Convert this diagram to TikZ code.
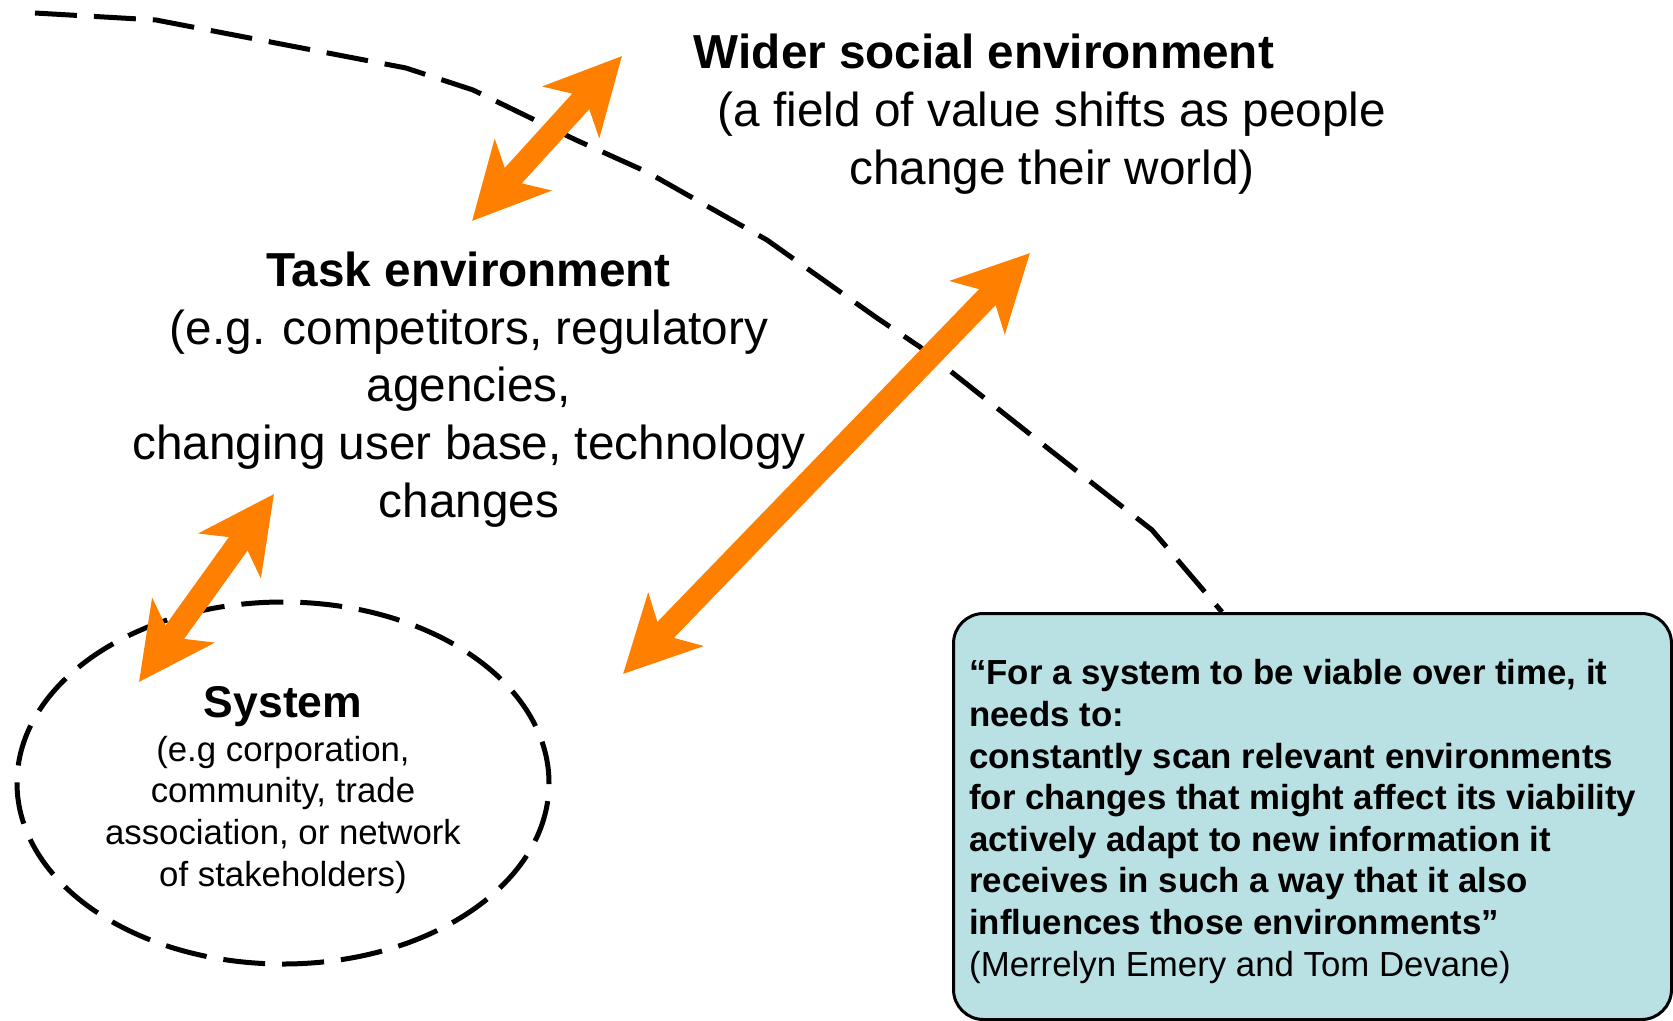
\documentclass[tikz,border=0pt]{standalone}
\usepackage{fontspec}
\setmainfont{Liberation Sans}
\usetikzlibrary{arrows.meta,shapes.geometric}
\definecolor{arroworange}{RGB}{255,128,0}
\definecolor{quotefill}{RGB}{185,224,227}
\begin{document}
\begin{tikzpicture}[x=1pt,y=-1pt,
  envline/.style={line width=5pt, dash pattern=on 42pt off 17pt},
  twoway/.style={line width=23pt, draw=arroworange, fill=arroworange,
    {Stealth[length=75pt,width=75pt,inset=20pt]}-{Stealth[length=75pt,width=75pt,inset=20pt]}},
  bigtitle/.style={font=\fontsize{47.7}{57.6}\selectfont\bfseries, anchor=base, inner sep=0pt},
  bigtext/.style={font=\fontsize{47.7}{57.6}\selectfont, align=center, anchor=base, inner sep=0pt},
  systitlestyle/.style={font=\fontsize{44.5}{53}\selectfont\bfseries, anchor=base, inner sep=0pt},
  smalltext/.style={font=\fontsize{34.8}{41.6}\selectfont, align=center, anchor=base, inner sep=0pt},
  quotestyle/.style={font=\fontsize{34.8}{41.6}\selectfont\bfseries, align=left, anchor=base west, inner sep=0pt},
  quotebox/.style={draw=black, line width=3pt, fill=quotefill, rounded corners=30pt,
    minimum width=718pt, minimum height=406pt, inner sep=0pt, anchor=north west},
  sysellipse/.style={draw=black, envline, ellipse, minimum width=532pt, minimum height=362pt, inner sep=0pt}
]
\useasboundingbox (0,0) rectangle (1673,1020);

% quote box
\node[quotebox] (quote) at (952,612) {};
\node[quotestyle] (quotetext) at (969,976) {“For a system to be viable over time, it\\needs to:\\constantly scan relevant environments\\for changes that might affect its viability\\actively adapt to new information it\\receives in such a way that it also\\influences those environments”\\{\mdseries (Merrelyn Emery and Tom Devane)}};

% environment boundary
\coordinate (b0) at (35,13);
\coordinate (b1) at (1222,612);
\draw[envline] (b0) -- (156,20) -- (406,68) -- (473,90) -- (576,140) -- (647,172)
  -- (767,240) -- (877,318) -- (920,347) -- (1050,450) -- (1152,530) -- (b1);

% system ellipse
\node[sysellipse] (system) at (283,783) {};
\node[systitlestyle] (systitle) at (283,717) {System};
\node[smalltext] (systext) at (283,886) {(e.g corporation,\\community, trade\\association, or network\\of stakeholders)};

% texts
\node[bigtitle] (widertitle) at (984,68) {Wider social environment};
\node[bigtext] (widertext) at (1052,184) {(a field of value shifts as people\\change their world)};
\node[bigtitle] (tasktitle) at (468.5,286) {Task environment};
\node[bigtext] (tasktext) at (469,517) {(e.g. competitors, regulatory\\agencies,\\changing user base, technology\\changes};

% arrows
\coordinate (a1s) at (472,221);
\coordinate (a1e) at (622,56);
\coordinate (a2s) at (139,682);
\coordinate (a2e) at (274,494);
\coordinate (a3s) at (623,674);
\coordinate (a3e) at (1030,253);
\draw[twoway] (a1s) -- (a1e);
\draw[twoway] (a2s) -- (a2e);
\draw[twoway] (a3s) -- (a3e);
\end{tikzpicture}
\end{document}
